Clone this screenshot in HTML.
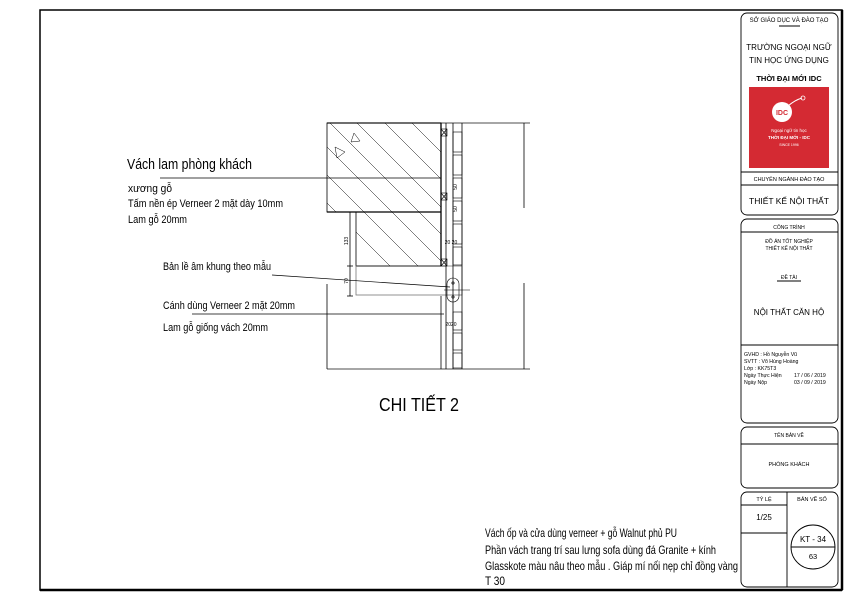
<!DOCTYPE html>
<html><head><meta charset="utf-8"><style>
html,body{margin:0;padding:0;background:#fff}
svg{display:block}
text{font-family:"Liberation Sans",sans-serif;fill:#000}
</style></head><body>
<svg width="850" height="601" viewBox="0 0 850 601" xmlns="http://www.w3.org/2000/svg">
<!-- frame -->
<rect x="40" y="10" width="802" height="580" fill="none" stroke="#000" stroke-width="1.5"/>
<line x1="842" y1="10" x2="842" y2="590" stroke="#000" stroke-width="2.5"/>
<line x1="40" y1="590" x2="842" y2="590" stroke="#000" stroke-width="2.5"/>

<!-- title block panels -->
<g fill="none" stroke="#000" stroke-width="0.9">
<rect x="741" y="13" width="97" height="202" rx="6"/>
<rect x="741" y="219" width="97" height="204" rx="6"/>
<rect x="741" y="427" width="97" height="61" rx="6"/>
<rect x="741" y="492" width="97" height="95" rx="6"/>
<line x1="741" y1="172" x2="838" y2="172"/>
<line x1="741" y1="185" x2="838" y2="185"/>
<line x1="741" y1="232" x2="838" y2="232"/>
<line x1="741" y1="345" x2="838" y2="345"/>
<line x1="741" y1="444" x2="838" y2="444"/>
<line x1="787" y1="492" x2="787" y2="587"/>
<line x1="741" y1="505" x2="787" y2="505"/>
<line x1="741" y1="533" x2="787" y2="533"/>
<circle cx="813" cy="547" r="22"/>
<line x1="791" y1="547" x2="835" y2="547"/>
<line x1="779" y1="26" x2="800" y2="26"/>
<line x1="777" y1="281" x2="801" y2="281"/>
</g>
<g font-size="6" text-anchor="middle">
<text x="789" y="22">SỞ GIÁO DỤC VÀ ĐÀO TẠO</text>
<text x="789" y="50" font-size="8">TRƯỜNG NGOẠI NGỮ</text>
<text x="789" y="63" font-size="8">TIN HỌC ỨNG DỤNG</text>
<text x="789" y="81" font-size="7.5" font-weight="bold">THỜI ĐẠI MỚI IDC</text>
<text x="789" y="181" font-size="5.5">CHUYÊN NGÀNH ĐÀO TẠO</text>
<text x="789" y="204" font-size="8.5">THIẾT KẾ NỘI THẤT</text>
<text x="789" y="229" font-size="5">CÔNG TRÌNH</text>
<text x="789" y="243" font-size="5">ĐỒ ÁN TỐT NGHIỆP</text>
<text x="789" y="250" font-size="5">THIẾT KẾ NỘI THẤT</text>
<text x="789" y="279" font-size="5">ĐỀ TÀI</text>
<text x="789" y="315" font-size="8">NỘI THẤT CĂN HỘ</text>
<text x="789" y="437" font-size="5">TÊN BẢN VẼ</text>
<text x="789" y="466" font-size="5.5">PHÒNG KHÁCH</text>
<text x="764" y="501" font-size="5.5">TỶ LỆ</text>
<text x="812" y="501" font-size="5.5">BẢN VẼ SỐ</text>
<text x="764" y="520" font-size="8">1/25</text>
<text x="813" y="542" font-size="8">KT - 34</text>
<text x="813" y="559" font-size="7.5">63</text>
</g>
<g font-size="5.2">
<text x="744" y="356">GVHD  : Hồ Nguyễn Vũ</text>
<text x="744" y="363">SVTT   : Võ Hùng Hoàng</text>
<text x="744" y="370">Lớp     : KK75T3</text>
<text x="744" y="377">Ngày Thực Hiện</text>
<text x="794" y="377">17 / 06 / 2019</text>
<text x="744" y="384">Ngày Nộp</text>
<text x="794" y="384">03 / 09 / 2019</text>
</g>
<!-- logo -->
<rect x="749" y="87" width="80" height="81" fill="#d42a33"/>
<circle cx="782" cy="112" r="10" fill="#fff"/>
<text x="782" y="115" font-size="7" font-weight="bold" fill="#d42a33" text-anchor="middle" style="fill:#d42a33">IDC</text>
<path d="M788 106 Q795 100 802 98" stroke="#fff" fill="none" stroke-width="1"/>
<circle cx="803" cy="98" r="2" fill="none" stroke="#fff" stroke-width="0.8"/>
<g text-anchor="middle" font-size="4.5" style="fill:#fff">
<text x="789" y="132" style="fill:#fff">Ngoại ngữ tin học</text>
<text x="789" y="139" style="fill:#fff" font-weight="bold">THỜI ĐẠI MỚI - IDC</text>
<text x="789" y="146" style="fill:#fff" font-size="3.5">SINCE 1996</text>
</g>

<!-- drawing -->
<g fill="none" stroke="#000" stroke-width="0.8">
<line x1="327" y1="123" x2="530" y2="123" stroke="#888" stroke-width="1.5"/>
<line x1="327" y1="369" x2="530" y2="369" stroke="#888" stroke-width="1.5"/>
<rect x="327" y="123" width="114" height="89"/>
<line x1="327" y1="212" x2="441" y2="212" stroke-width="1.3"/>
<rect x="356" y="212" width="85" height="54"/>
<line x1="356" y1="266" x2="441" y2="266" stroke-width="1.3"/>
<rect x="356" y="266" width="106" height="29" stroke="#777"/>
<line x1="441" y1="123" x2="441" y2="266" stroke-width="1.3"/>
<line x1="446" y1="123" x2="446" y2="369"/>
<line x1="453" y1="123" x2="453" y2="369"/>
<line x1="462" y1="123" x2="462" y2="369"/>
<line x1="441" y1="296" x2="441" y2="369"/>
<line x1="524" y1="123" x2="524" y2="208"/>
<line x1="524" y1="283" x2="524" y2="369"/>
<line x1="327" y1="284" x2="327" y2="369"/>
<line x1="350" y1="212" x2="350" y2="296"/>
<line x1="347" y1="212" x2="353" y2="212"/><line x1="347" y1="266" x2="353" y2="266"/><line x1="347" y1="296" x2="353" y2="296"/>
</g>
<!-- strip boxes -->
<g fill="none" stroke="#000" stroke-width="0.6">
<rect x="453" y="132" width="9" height="20"/><rect x="453" y="155" width="9" height="20"/><rect x="453" y="178" width="9" height="20"/>
<rect x="453" y="201" width="9" height="20"/><rect x="453" y="224" width="9" height="20"/><rect x="453" y="247" width="9" height="18"/>
<rect x="453" y="312" width="9" height="18"/><rect x="453" y="333" width="9" height="17"/><rect x="453" y="353" width="9" height="15"/>
<rect x="441" y="129" width="6" height="7"/><path d="M441 129 L447 136 M447 129 L441 136"/>
<rect x="441" y="193" width="6" height="7"/><path d="M441 193 L447 200 M447 193 L441 200"/>
<rect x="441" y="259" width="6" height="7"/><path d="M441 259 L447 266 M447 259 L441 266"/>
<rect x="447" y="278" width="12" height="24" rx="6"/>
<circle cx="453" cy="283" r="1.2"/><circle cx="453" cy="297" r="1.2"/>
<line x1="444" y1="290" x2="470" y2="290"/>
</g>
<!-- hatching -->
<g stroke="#000" stroke-width="0.5">
<clipPath id="c1"><path d="M327 123 H441 V266 H356 V212 H327 Z"/></clipPath>
<g clip-path="url(#c1)">
<line x1="330" y1="123" x2="480" y2="273"/>
<line x1="357" y1="123" x2="507" y2="273"/>
<line x1="385" y1="123" x2="535" y2="273"/>
<line x1="412" y1="123" x2="562" y2="273"/>
<line x1="327" y1="147" x2="477" y2="297"/>
<line x1="327" y1="175" x2="477" y2="325"/>
<line x1="327" y1="203" x2="477" y2="353"/>
</g>
<path d="M354 133 L351 142 L360 141 Z" fill="none"/>
<path d="M335 147 L337 158 L345 152 Z" fill="none"/>
</g>
<g font-size="5" text-anchor="middle">
<text x="0" y="0" transform="translate(348,241) rotate(-90)">133</text>
<text x="0" y="0" transform="translate(348,281) rotate(-90)">70</text>
<text x="0" y="0" transform="translate(457,187) rotate(-90)">50</text>
<text x="0" y="0" transform="translate(457,209) rotate(-90)">50</text>
<text x="451" y="244">20 20</text>
<text x="451" y="326">2020</text>
</g>
<!-- leaders -->
<g stroke="#000" stroke-width="0.7" fill="none">
<line x1="160" y1="178" x2="441" y2="178"/>
<line x1="272" y1="275" x2="450" y2="287"/>
<line x1="192" y1="314" x2="444" y2="314"/>
</g>
<!-- labels -->
<text x="127" y="169" font-size="15" textLength="125" lengthAdjust="spacingAndGlyphs">Vách lam phòng khách</text>
<g font-size="11">
<text x="128" y="192" textLength="44" lengthAdjust="spacingAndGlyphs">xương gỗ</text>
<text x="128" y="207" textLength="155" lengthAdjust="spacingAndGlyphs">Tấm nền ép Verneer 2 mặt dày 10mm</text>
<text x="128" y="223" textLength="59" lengthAdjust="spacingAndGlyphs">Lam gỗ 20mm</text>
<text x="163" y="270" textLength="108" lengthAdjust="spacingAndGlyphs">Bản lề âm khung theo mẫu</text>
<text x="163" y="309" textLength="132" lengthAdjust="spacingAndGlyphs">Cánh dùng Verneer 2 mặt 20mm</text>
<text x="163" y="331" textLength="105" lengthAdjust="spacingAndGlyphs">Lam gỗ giống vách 20mm</text>
</g>
<text x="379" y="411" font-size="18" textLength="80" lengthAdjust="spacingAndGlyphs">CHI TIẾT 2</text>
<g font-size="12">
<text x="485" y="537" textLength="192" lengthAdjust="spacingAndGlyphs">Vách ốp và cửa dùng verneer + gỗ Walnut phủ PU</text>
<text x="485" y="554" textLength="231" lengthAdjust="spacingAndGlyphs">Phần vách trang trí sau lưng sofa dùng đá Granite + kính</text>
<text x="485" y="570" textLength="253" lengthAdjust="spacingAndGlyphs">Glasskote màu nâu theo mẫu . Giáp mí nối nẹp chỉ đồng vàng</text>
<text x="485" y="585" textLength="20" lengthAdjust="spacingAndGlyphs">T 30</text>
</g>
</svg>
</body></html>
